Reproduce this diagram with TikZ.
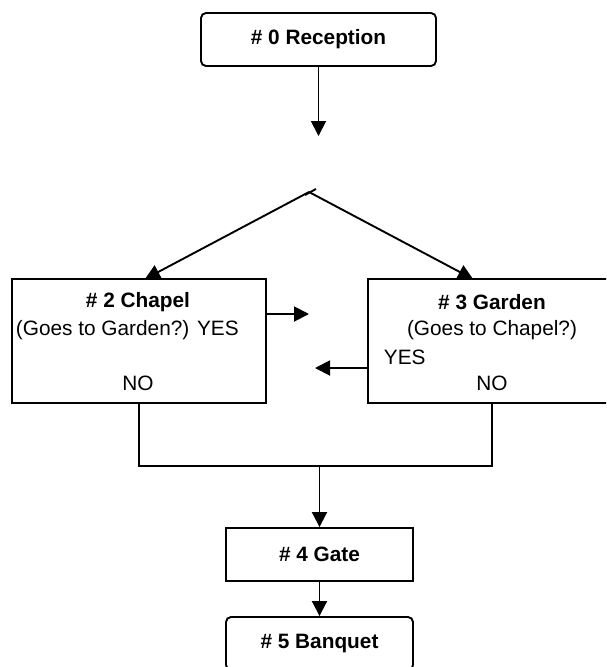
\documentclass[tikz,border=0pt]{standalone}
\usepackage{fontspec}
\setmainfont{Liberation Sans}
\usepackage{tikz}
\usetikzlibrary{arrows.meta}

\begin{document}
\begin{tikzpicture}[x=1pt,y=-1pt,line width=1.9pt,
    font=\fontsize{20.8}{24}\selectfont,
    box/.style={draw,inner sep=0pt},
    rbox/.style={box,rounded corners=5pt},
    txt/.style={inner sep=0pt},
    arr/.style={-{Triangle[length=15pt,width=15pt]}}]
    \useasboundingbox (0,0) rectangle (606,667);
    \clip (0,0) rectangle (606,667);
    % boxes
    \node[rbox,minimum width=235,minimum height=53] (rec) at (318.5,39.5) {\textbf{\# 0 Reception}};
    \node[box,minimum width=254,minimum height=124] (chapel) at (139,341) {};
    \node[box,minimum width=250,minimum height=124] (garden) at (493,341) {};
    \node[box,minimum width=187,minimum height=53] (gate) at (319.5,554.5) {\textbf{\# 4 Gate}};
    \node[rbox,minimum width=187,minimum height=53] (banq) at (319.5,643.5) {\textbf{\# 5 Banquet}};
    % texts in the two middle boxes
    \node[txt] (chtitle) at (138,302) {\textbf{\# 2 Chapel}};
    \node[txt,anchor=west] (chq) at (15,330) {(Goes to Garden?) YES};
    \node[txt] (chno) at (138,383) {NO};
    \node[txt] (gatitle) at (492,302) {\textbf{\# 3 Garden}};
    \node[txt] (gaq) at (492,330) {(Goes to Chapel?)};
    \node[txt,anchor=west] (gayes) at (383,357) {YES};
    \node[txt] (gano) at (492,383) {NO};
    % free ends
    \coordinate (drop) at (318.5,136);
    \coordinate (fork) at (309,192);
    \coordinate (cin) at (145,279);
    \coordinate (gin) at (473,279);
    \coordinate (yesc) at (309,314);
    \coordinate (yesg) at (315,368);
    \coordinate (join) at (319.5,466);
    % connectors
    \draw[arr] (rec.south) -- (drop);
    \draw (305,195) -- (316,189);
    \draw[arr] (fork) -- (cin);
    \draw[arr] (fork) -- (gin);
    \draw[arr] (chapel.east |- yesc) -- (yesc);
    \draw[arr] (garden.west |- yesg) -- (yesg);
    \draw (chapel.south) -- (chapel.south |- join) -- (gano |- join) -- (gano |- garden.south);
    \draw[arr] (join) -- (gate.north);
    \draw[arr] (gate) -- (banq);
\end{tikzpicture}
\end{document}
